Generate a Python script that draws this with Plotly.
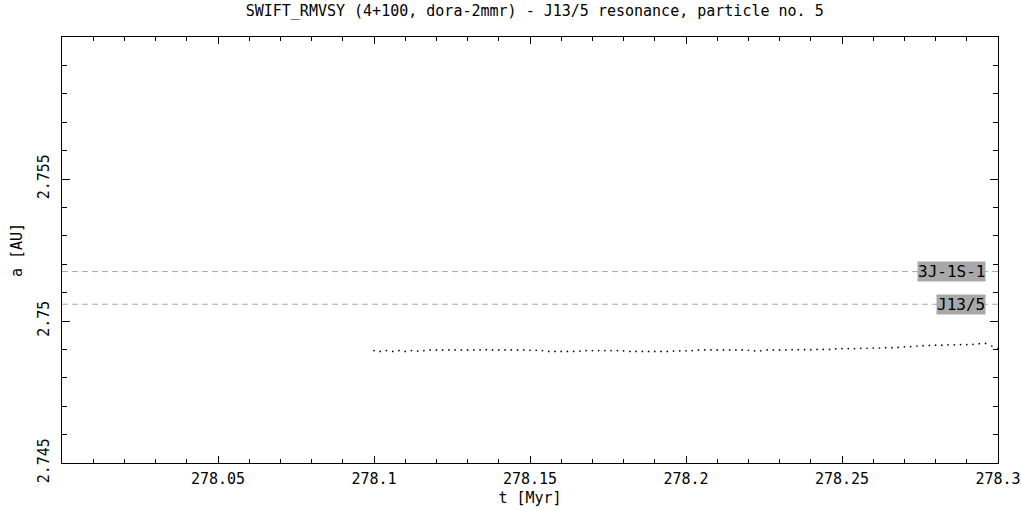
import plotly.graph_objects as go

title = "SWIFT_RMVSY (4+100, dora-2mmr) - J13/5 resonance, particle no. 5"

t_start = 278.1
t_step = 0.002
a_values = [
    2.74896, 2.74893, 2.74896, 2.74893, 2.74896, 2.74893, 2.74896, 2.74894, 2.74896,
    2.74898, 2.74898, 2.74898, 2.74898, 2.74898, 2.74898, 2.74898, 2.74898,
    2.74898, 2.74899, 2.74898, 2.74898, 2.74898, 2.74898, 2.74898, 2.74898,
    2.74897, 2.74897, 2.74896,
    2.74893, 2.74893, 2.74893, 2.74893, 2.74893, 2.74894,
    2.74896, 2.74896, 2.74896, 2.74896, 2.74896, 2.74896, 2.74895,
    2.74893, 2.74893, 2.74893, 2.74893, 2.74893, 2.74893, 2.74893, 2.74894,
    2.74895, 2.74895, 2.74896,
    2.74898, 2.74898, 2.74898, 2.74898, 2.74898, 2.74898, 2.74898, 2.74898, 2.74897,
    2.74895, 2.74895,
    2.74898, 2.74898, 2.74898, 2.74898, 2.74899, 2.74899, 2.74899, 2.74899, 2.74900,
    2.74900, 2.74900,
    2.74902, 2.74903, 2.74903, 2.74903, 2.74904, 2.74904, 2.74905, 2.74905, 2.74906,
    2.74906, 2.74907,
    2.74909, 2.74910, 2.74912, 2.74913, 2.74914,
    2.74915, 2.74915, 2.74916, 2.74916, 2.74917, 2.74917, 2.74918, 2.74920, 2.74921,
    2.74912, 2.74904,
]
t_values = [round(t_start + t_step * i, 4) for i in range(len(a_values))]

res_names = ["3J-1S-1", "J13/5"]
res_a = [2.75174, 2.75059]

x_range = [278.0, 278.3]
y_range = [2.745, 2.76]
x_ticks = [278.05, 278.1, 278.15, 278.2, 278.25, 278.3]
x_tick_text = ["278.05", "278.1", "278.15", "278.2", "278.25", "278.3"]
y_ticks = [2.745, 2.75, 2.755]
y_tick_text = ["2.745", "2.75", "2.755"]

FONT = "DejaVu Sans Mono"

fig = go.Figure()

for name, a in zip(res_names, res_a):
    fig.add_trace(go.Scatter(
        x=x_range, y=[a, a], mode="lines",
        line=dict(color="#a8a8a8", width=1, dash="6px,4px"),
        hoverinfo="skip", showlegend=False,
    ))
    fig.add_annotation(
        x=0.987, xref="paper", y=a, yref="y", text=name, showarrow=False,
        xanchor="right", yanchor="middle", bgcolor="#a8a8a8",
        font=dict(family=FONT, size=16, color="black"),
        borderpad=0,
    )

fig.add_trace(go.Scatter(
    x=t_values, y=a_values, mode="markers",
    marker=dict(color="black", size=1.7),
    showlegend=False,
))

fig.update_layout(
    width=1021, height=511,
    margin=dict(l=62, r=23, t=37, b=48),
    paper_bgcolor="white", plot_bgcolor="white",
    font=dict(family=FONT, size=14, color="black"),
    title=dict(text=title, xref="paper", x=0.505, xanchor="center", y=0.99, yanchor="top",
               font=dict(family=FONT, size=15, color="black")),
)

fig.update_xaxes(
    range=x_range, showgrid=False, zeroline=False, automargin=False,
    showline=True, linecolor="black", linewidth=1, mirror="ticks",
    ticks="inside", ticklen=7, tickcolor="black",
    tickvals=x_ticks, ticktext=x_tick_text, ticklabelstandoff=2,
    minor=dict(dtick=0.01, tick0=278.0, ticks="inside", ticklen=4, tickcolor="black", showgrid=False),
    title=dict(text="t [Myr]", standoff=5, font=dict(size=15)),
    tickfont=dict(size=15),
)
fig.update_yaxes(
    range=y_range, showgrid=False, zeroline=False, automargin=False,
    showline=True, linecolor="black", linewidth=1, mirror="ticks",
    ticks="inside", ticklen=8, tickcolor="black",
    tickvals=y_ticks, ticktext=y_tick_text, tickangle=-90, ticklabelstandoff=6,
    minor=dict(dtick=0.001, tick0=2.745, ticks="inside", ticklen=5, tickcolor="black", showgrid=False),
    title=dict(text="a [AU]", standoff=8, font=dict(size=15)),
    tickfont=dict(size=15),
)

fig.write_html(
    "out.html",
    config={"displayModeBar": False, "staticPlot": True},
    post_script="document.body.style.margin='0';document.body.style.overflow='hidden';",
)
